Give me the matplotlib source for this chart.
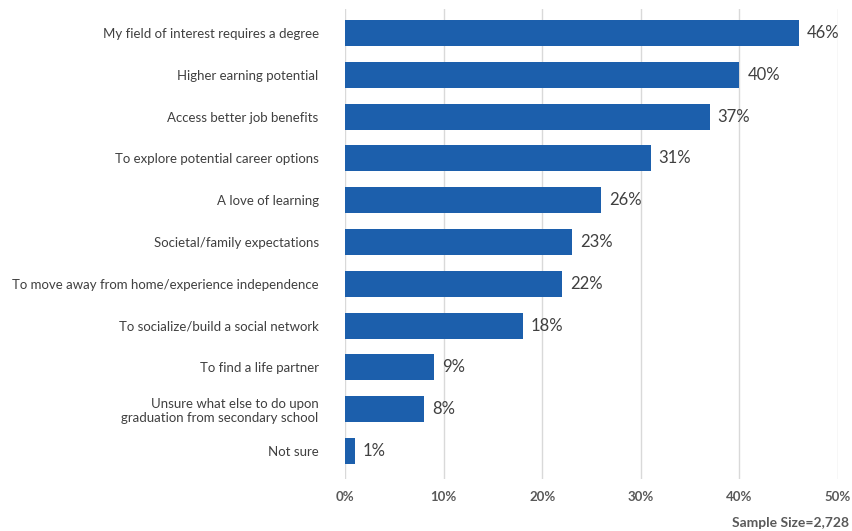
import matplotlib.pyplot as plt

# Survey responses: reasons for pursuing post-secondary education
reasons = [
    "My field of interest requires a degree",
    "Higher earning potential",
    "Access better job benefits",
    "To explore potential career options",
    "A love of learning",
    "Societal/family expectations",
    "To move away from home/experience independence",
    "To socialize/build a social network",
    "To find a life partner",
    "Unsure what else to do upon\ngraduation from secondary school",
    "Not sure",
]
shares = [46, 40, 37, 31, 26, 23, 22, 18, 9, 8, 1]
xticks = [0, 10, 20, 30, 40, 50]
sample_note = "Sample Size=2,728"

plt.rcParams['font.family'] = ['Lato', 'DejaVu Sans']

fig = plt.figure(figsize=(8.52, 5.31), dpi=100)
ax = fig.add_axes([0.405, 0.098, 0.5786, 0.885])

pos = list(range(len(reasons)))
ax.barh(pos, shares, height=0.62, color="#1c5fac", zorder=3)

# value labels at the end of each bar
for p, v in zip(pos, shares):
    ax.text(v + 0.8, p, f"{v}%", va="center", ha="left",
            fontsize=12, color="#404040", zorder=4)

ax.set_xlim(0, 50)
ax.set_ylim(10.67, -0.574)
ax.set_xticks(xticks)
ax.set_xticklabels([f"{t}%" for t in xticks], fontsize=9.5,
                   fontweight="bold", color="#595959")
ax.set_yticks(pos)
ax.set_yticklabels(reasons, fontsize=9.5, color="#404040")
ax.tick_params(axis="y", length=0, pad=19)
ax.tick_params(axis="x", length=0, pad=9)

ax.grid(axis="x", color="#d9d9d9", linewidth=1, zorder=0)
for s in ax.spines.values():
    s.set_visible(False)

fig.text(0.996, 0.004, sample_note, ha="right", va="bottom",
         fontsize=10, fontweight="bold", color="#595959")

fig.savefig("out.png", dpi=100)
